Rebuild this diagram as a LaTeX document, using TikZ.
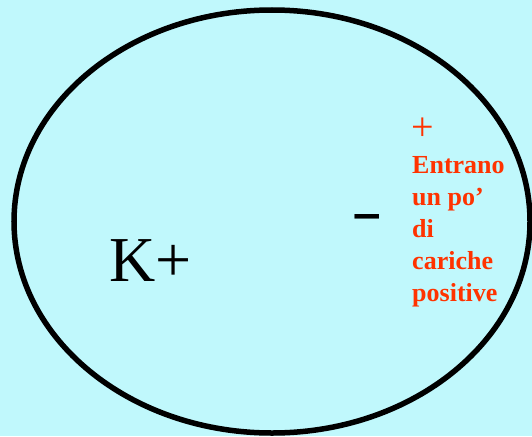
\documentclass[tikz,border=0pt]{standalone}
\usepackage{fontspec}
\setmainfont{Liberation Serif}
\usepackage{graphicx}
\definecolor{pool}{HTML}{C0F8FC}
\definecolor{charge}{HTML}{FF3300}
\usetikzlibrary{positioning}
\tikzset{
  membrane/.style={draw=black, line width=5.5pt},
  ion/.style={font=\fontsize{64}{70}\selectfont, inner sep=0pt, anchor=base west},
  note/.style={text=charge, font=\bfseries\fontsize{26}{32}\selectfont, align=left,
               inner sep=0pt, anchor=base west},
}
\begin{document}
\begin{tikzpicture}[x=1pt,y=-1pt]
  \fill[pool] (0,0) rectangle (532,436);
  \useasboundingbox (0,0) rectangle (532,436);
  \draw[membrane] (272,221.5) ellipse [x radius=258, y radius=211.5];
  \node[ion] (kion) at (109,281) {K+};
  \node[inner sep=0pt, anchor=base] (minus) at (367,229) {\fontsize{54}{58}\selectfont\scalebox{1.75}[1]{\bfseries -}};
  \node[text=charge, font=\fontsize{40}{44}\selectfont, inner sep=0pt, anchor=base west] (plus) at (411,140) {+};
  \node[note] (entrano) at (412,301) {Entrano\\un po’\\di\\cariche\\positive};
\end{tikzpicture}
\end{document}
